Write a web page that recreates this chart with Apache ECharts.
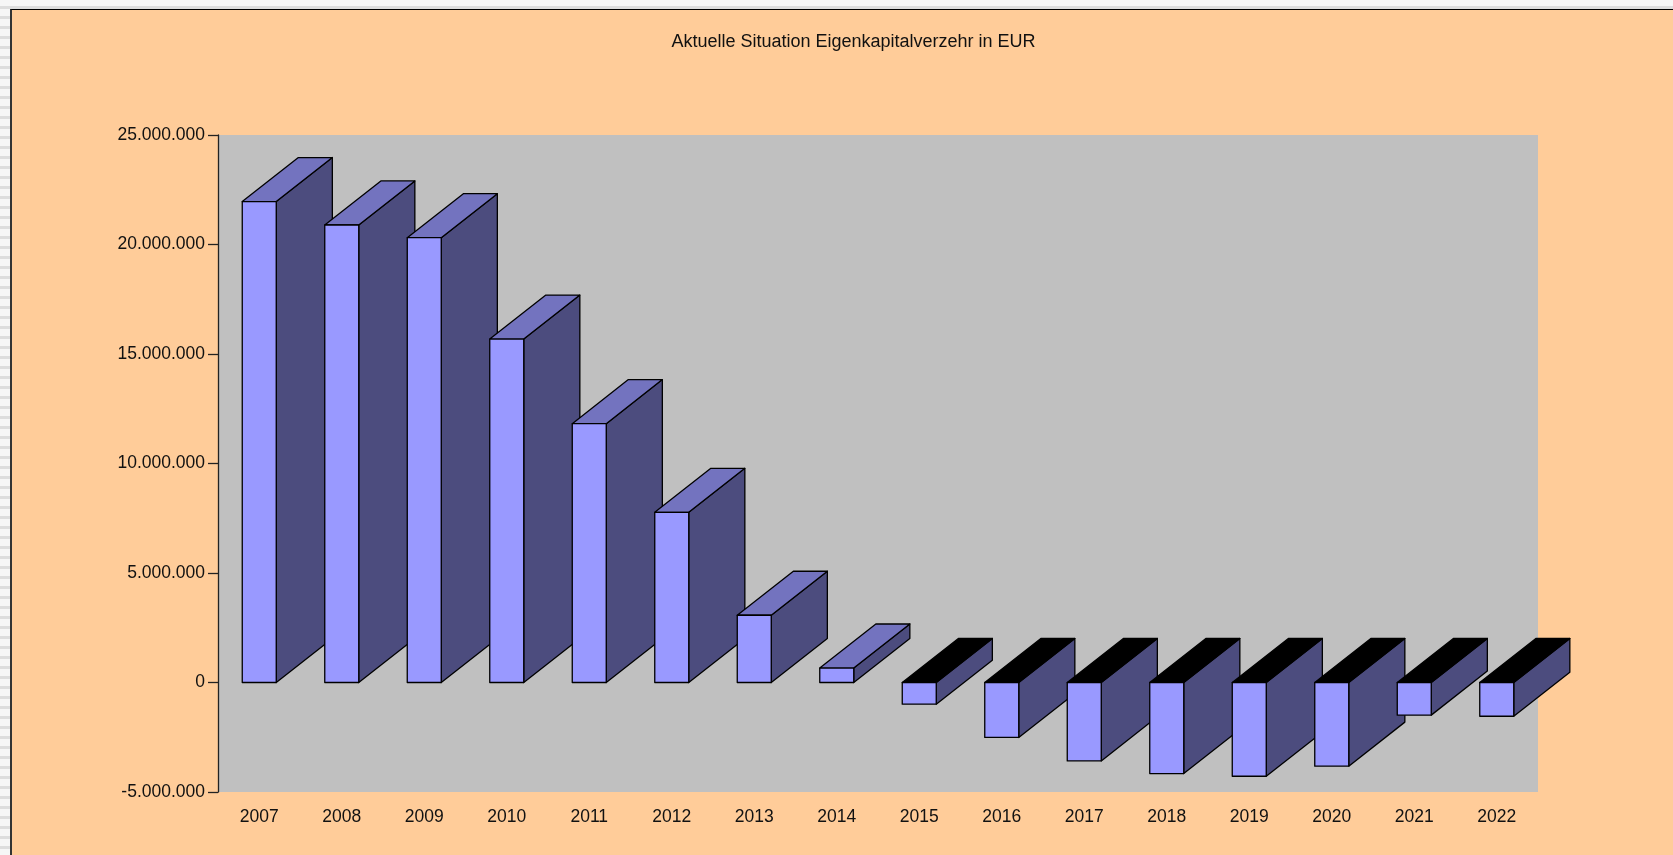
<!DOCTYPE html>
<html>
<head>
<meta charset="utf-8">
<title>Eigenkapitalverzehr</title>
<script src="https://cdn.jsdelivr.net/npm/echarts@6/dist/echarts.min.js"></script>
<style>
  html, body {
    margin: 0;
    padding: 0;
    width: 1673px;
    height: 855px;
    overflow: hidden;
    background: repeating-linear-gradient(to bottom, #f6f6f6 0px, #f6f6f6 6px, #dddddd 6px, #dddddd 9px, #f6f6f6 9px, #f6f6f6 10px);
  }
  #chart {
    position: absolute;
    left: 10px;
    top: 9px;
    width: 1661px;
    height: 845px;
    border-left: 2px solid #333;
    border-top: 1px solid #000;
  }
</style>
</head>
<body>
<div id="chart"></div>
<script>
// Jahre und Werte (EUR)
var years = ['2007', '2008', '2009', '2010', '2011', '2012', '2013', '2014',
  '2015', '2016', '2017', '2018', '2019', '2020', '2021', '2022']
var values = [21960000, 20890000, 20310000, 15680000, 11820000, 7770000, 3070000, 660000,
  -990000, -2510000, -3580000, -4160000, -4280000, -3820000, -1490000, -1540000]
var yTicks = [-5000000, 0, 5000000, 10000000, 15000000, 20000000, 25000000]

var chartTitle = 'Aktuelle Situation Eigenkapitalverzehr in EUR'

function fmt (v) {
  var s = String(Math.abs(v)).replace(/\B(?=(\d{3})+(?!\d))/g, '.')
  return (v < 0 ? '-' : '') + s
}

var font = "'Liberation Sans', Arial, sans-serif"

function renderBar (params, api) {
  var i = api.value(0)
  var v = api.value(1)
  var base = api.coord([i, 0])
  var end = api.coord([i, v])
  var band = api.size([1, 0])[0]
  var hw = band * 0.206
  var dx = band * 0.68
  var dy = -dx * 0.785
  var x0 = base[0] - hw
  var x1 = base[0] + hw
  var yTop = Math.min(base[1], end[1])
  var yBot = Math.max(base[1], end[1])
  var stroke = { stroke: '#000', lineWidth: 1.3, lineJoin: 'round' }
  return {
    type: 'group',
    children: [
      {
        type: 'polygon',
        shape: { points: [[x1, yTop], [x1 + dx, yTop + dy], [x1 + dx, yBot + dy], [x1, yBot]] },
        style: Object.assign({ fill: '#4c4c7e' }, stroke)
      },
      {
        type: 'polygon',
        shape: { points: [[x0, yTop], [x1, yTop], [x1 + dx, yTop + dy], [x0 + dx, yTop + dy]] },
        style: Object.assign({ fill: v < 0 ? '#000000' : '#7373bf' }, stroke)
      },
      {
        type: 'rect',
        shape: { x: x0, y: yTop, width: x1 - x0, height: yBot - yTop },
        style: Object.assign({ fill: '#9999ff' }, stroke)
      }
    ]
  }
}

var myChart = echarts.init(document.getElementById('chart'))
myChart.setOption({
  backgroundColor: '#ffcc99',
  animation: false,
  graphic: [
    {
      type: 'text',
      x: 841.5,
      y: 32,
      style: {
        text: chartTitle,
        fill: '#111',
        font: '18px ' + font,
        textAlign: 'center',
        textVerticalAlign: 'middle'
      }
    }
  ],
  grid: {
    show: true,
    left: 206,
    right: 135,
    top: 125,
    bottom: 63,
    backgroundColor: '#c0c0c0',
    borderWidth: 0
  },
  xAxis: {
    type: 'category',
    data: years,
    boundaryGap: true,
    axisLine: { show: false },
    axisTick: { show: false },
    axisLabel: {
      margin: 16,
      color: '#111',
      fontSize: 17.5,
      fontFamily: font
    }
  },
  yAxis: {
    type: 'value',
    min: yTicks[0],
    max: yTicks[yTicks.length - 1],
    interval: yTicks[1] - yTicks[0],
    axisLine: { show: true, lineStyle: { color: '#222', width: 1.3 } },
    axisTick: { show: true, inside: false, length: 10, lineStyle: { color: '#222', width: 1.3 } },
    splitLine: { show: false },
    axisLabel: {
      margin: 13,
      color: '#111',
      fontSize: 17.5,
      fontFamily: font,
      formatter: fmt
    }
  },
  series: [
    {
      type: 'custom',
      clip: false,
      renderItem: renderBar,
      encode: { x: 0, y: 1 },
      data: values.map(function (v, i) { return [i, v] })
    }
  ]
})
</script>
</body>
</html>
